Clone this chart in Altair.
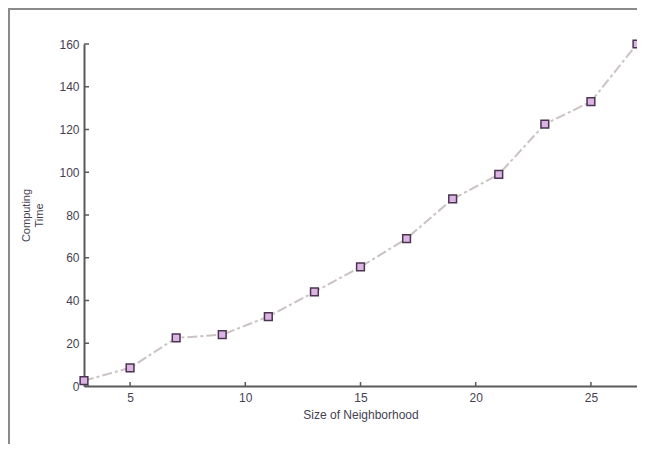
import altair as alt
import pandas as pd

sizes = [3, 5, 7, 9, 11, 13, 15, 17, 19, 21, 23, 25, 27]
times = [2.5, 8.5, 22.5, 24, 32.5, 44, 55.7, 69, 87.5, 99, 122.5, 133, 160]
x_ticks = [5, 10, 15, 20, 25]
y_ticks = [0, 20, 40, 60, 80, 100, 120, 140, 160]

df = pd.DataFrame({"size": sizes, "time": times})
xt = pd.DataFrame({"v": x_ticks})
yt = pd.DataFrame({"v": y_ticks})

W, H = 553, 342
AX = "#5a5a5a"
LAB = "#463f52"

xscale = alt.Scale(domain=[3, 27], nice=False, zero=False)
yscale = alt.Scale(domain=[0, 160], nice=False)

xaxis = alt.Axis(values=x_ticks, ticks=False, grid=False, domainColor=AX, domainWidth=2,
                 labelFont="Liberation Sans", labelFontSize=12, labelColor=LAB, labelPadding=6,
                 title="Size of Neighborhood", titleFont="Liberation Sans", titleFontSize=12,
                 titleFontWeight="normal", titleColor=LAB, titlePadding=6)
yaxis = alt.Axis(values=y_ticks, ticks=False, grid=False, domainColor=AX, domainWidth=2,
                 labelFont="Liberation Sans", labelFontSize=12, labelColor=LAB, labelPadding=5,
                 title=["Computing", "Time"], titleFont="Liberation Sans", titleFontSize=11,
                 titleFontWeight="normal", titleColor=LAB, titlePadding=14)

line = alt.Chart(df).mark_line(color="#cbc2c2", strokeWidth=2, strokeDash=[10, 3, 3, 3]).encode(
    x=alt.X("size:Q", scale=xscale, axis=xaxis),
    y=alt.Y("time:Q", scale=yscale, axis=yaxis),
)
pts = alt.Chart(df).mark_point(shape="square", size=60, filled=True, fill="#dcb4e4",
                               stroke="#4a3450", strokeWidth=1.5, opacity=1).encode(
    x=alt.X("size:Q", scale=xscale, axis=xaxis),
    y=alt.Y("time:Q", scale=yscale, axis=yaxis),
)
xtick = alt.Chart(xt).mark_rule(color=AX, strokeWidth=1.5).encode(
    x=alt.X("v:Q", scale=xscale, axis=xaxis), y=alt.value(H), y2=alt.value(H - 4))
ytick = alt.Chart(yt).mark_rule(color=AX, strokeWidth=1.5).encode(
    y=alt.Y("v:Q", scale=yscale, axis=yaxis), x=alt.value(0), x2=alt.value(5))

frame_top = alt.Chart(xt).mark_rule(color="#8a8a8a", strokeWidth=2).encode(
    x=alt.value(-76), x2=alt.value(W + 20), y=alt.value(-35))
frame_left = alt.Chart(xt).mark_rule(color="#8a8a8a", strokeWidth=2).encode(
    x=alt.value(-75), y=alt.value(-36), y2=alt.value(H + 70))

chart = alt.layer(line, pts, xtick, ytick, frame_top, frame_left).properties(
    width=W, height=H,
    background="white",
    autosize=alt.AutoSizeParams(type="none"),
    padding={"left": 76, "top": 36, "right": 0, "bottom": 58},
).configure_view(strokeWidth=0, stroke="#ffffff").configure_axis(grid=False)

chart.save("out.html", embed_options={"renderer": "svg", "actions": False})
